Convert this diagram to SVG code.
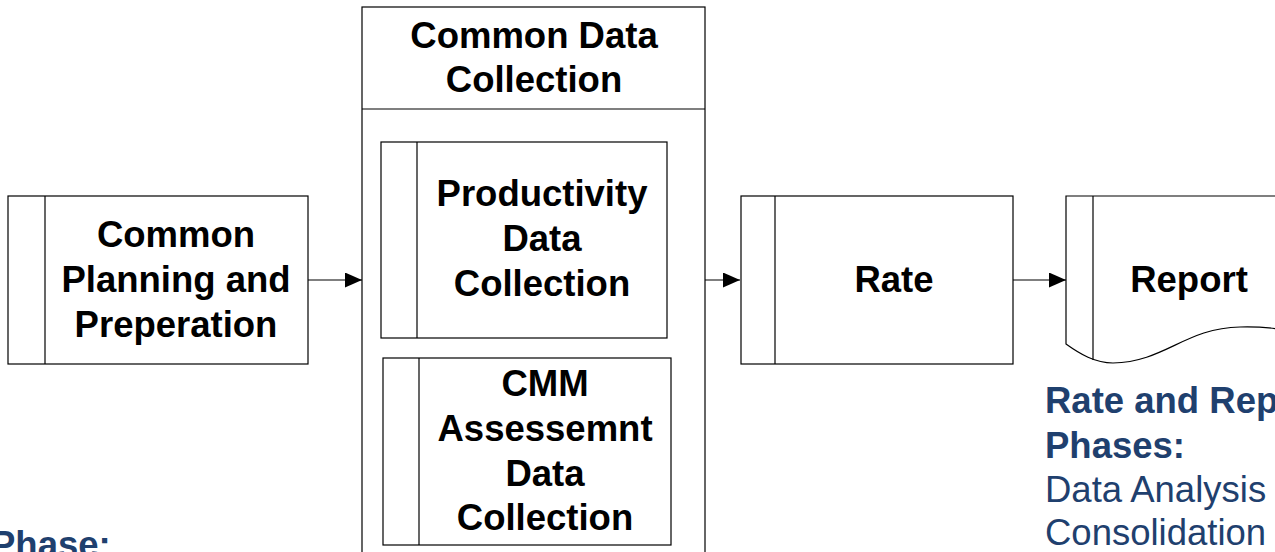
<svg xmlns="http://www.w3.org/2000/svg" width="1275" height="552" viewBox="0 0 1275 552">
<style>
.box{fill:#fff;stroke:#000;stroke-width:1.2}
.ln{fill:none;stroke:#000;stroke-width:1.2}
.t{font-family:"Liberation Sans",Arial,sans-serif;font-weight:bold;font-size:36.5px;fill:#000;text-anchor:middle}
.b{font-family:"Liberation Sans",Arial,sans-serif;font-size:36.5px;fill:#1F406E}
.bb{font-weight:bold}
</style>
<defs>
<marker id="ah" markerWidth="17" markerHeight="15" refX="17" refY="7.5" orient="auto" markerUnits="userSpaceOnUse">
<path d="M0,0 L17,7.5 L0,15 Z" fill="#000"/>
</marker>
</defs>
<rect width="1275" height="552" fill="#fff"/>
<g id="n-planning">
<rect class="box" x="8" y="196" width="300" height="168"/>
<line class="ln" x1="45" y1="196" x2="45" y2="364"/>
<text class="t" x="176" y="247">Common</text>
<text class="t" x="176" y="292">Planning and</text>
<text class="t" x="176" y="337">Preperation</text>
</g>
<g id="n-common-data">
<rect class="box" x="362" y="7" width="343" height="560"/>
<line class="ln" x1="362" y1="109" x2="705" y2="109"/>
<text class="t" x="534" y="48">Common Data</text>
<text class="t" x="534" y="92">Collection</text>
</g>
<g id="n-productivity">
<rect class="box" x="381" y="142" width="286" height="196"/>
<line class="ln" x1="417" y1="142" x2="417" y2="338"/>
<text class="t" x="542" y="206">Productivity</text>
<text class="t" x="542" y="251">Data</text>
<text class="t" x="542" y="296">Collection</text>
</g>
<g id="n-cmm">
<rect class="box" x="383" y="358" width="288" height="187"/>
<line class="ln" x1="419" y1="358" x2="419" y2="545"/>
<text class="t" x="545" y="396">CMM</text>
<text class="t" x="545" y="441">Assessemnt</text>
<text class="t" x="545" y="486">Data</text>
<text class="t" x="545" y="530">Collection</text>
</g>
<g id="n-rate">
<rect class="box" x="741" y="196" width="272" height="168"/>
<line class="ln" x1="775" y1="196" x2="775" y2="364"/>
<text class="t" x="894" y="292">Rate</text>
</g>
<g id="n-report">
<path class="box" d="M1066,196 L1340,196 L1340,344 C1300,330 1270,326 1240,327 C1185,328 1165,362 1113,363 C1095,363 1080,354 1066,344 Z"/>
<line class="ln" x1="1093" y1="196" x2="1093" y2="360"/>
<text class="t" x="1189" y="292">Report</text>
</g>
<g id="connectors">
<line class="ln" x1="308" y1="280" x2="362" y2="280" marker-end="url(#ah)"/>
<line class="ln" x1="705" y1="280" x2="740" y2="280" marker-end="url(#ah)"/>
<line class="ln" x1="1013" y1="280" x2="1066" y2="280" marker-end="url(#ah)"/>
</g>
<g id="notes">
<text class="b bb" x="1045" y="413">Rate and Report</text>
<text class="b bb" x="1045" y="458">Phases:</text>
<text class="b" x="1045" y="502">Data Analysis</text>
<text class="b" x="1045" y="545">Consolidation</text>
<text class="b bb" x="-9" y="557">Phase:</text>
</g>
</svg>
